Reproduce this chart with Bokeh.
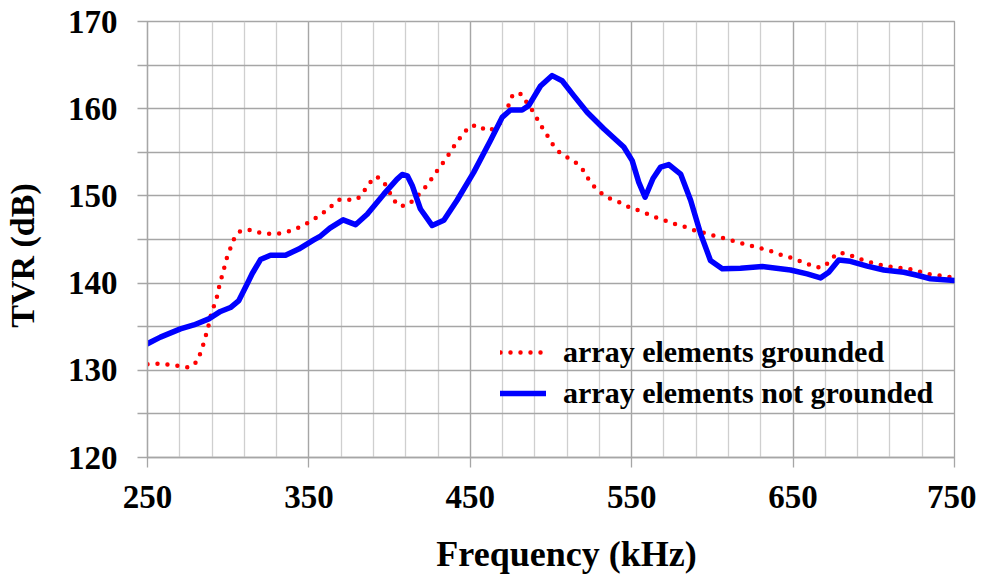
import math
from bokeh.plotting import figure
from bokeh.models import Range1d, FixedTicker, Legend, LegendItem, Label
from bokeh.embed import file_html
from bokeh.resources import INLINE

# ---- data ----
freq_grounded = [250, 258, 270, 276, 281, 283, 285, 286.6, 288.2, 289.5, 291.5, 293.4, 294.6,
                 296.3, 299.4, 303.9, 307.6, 313.8, 320, 326, 332, 338, 344, 349.3, 354.5,
                 359.2, 364.4, 369.2, 374.8, 380, 384, 387.6, 391.9, 396.4, 399.5, 402.2,
                 406.3, 411.9, 420.4, 424.3, 428, 431.5, 435.1, 438.5, 441.8, 445.5, 449.6,
                 455, 460, 464.5, 469.7, 474.3, 476.5, 481.3, 485, 488.1, 491.4, 494.5,
                 497.8, 501.1, 505.3, 510.2, 515.4, 519.7, 523, 526.6, 531.3, 536.5, 542.1,
                 547.4, 553.2, 559, 564.7, 570.5, 576.3, 582.1, 588.1, 594, 599.8, 605.8,
                 611.8, 617.6, 623.6, 629.6, 635.6, 641.6, 647.4, 653.3, 658.9, 664.5,
                 669.6, 673.6, 678.6, 684.1, 689.9, 695.7, 701.7, 707.4, 713.5, 719.6,
                 725.8, 731.6, 737.6, 743.6, 750]
tvr_grounded = [130.7, 130.75, 130.5, 130.3, 131.05, 132.1, 133.2, 134.3, 135.4, 136.5, 137.55,
                138.65, 139.8, 140.9, 143.05, 145.2, 146.0, 146.1, 145.75, 145.65, 145.7,
                145.95, 146.4, 146.9, 147.5, 148.1, 148.9, 149.6, 149.57, 149.6, 150.5,
                151.5, 152.25, 151.6, 150.6, 149.6, 148.8, 149.0, 150.6, 151.5, 152.5,
                153.4, 154.3, 155.3, 156.2, 157.1, 158.0, 158.1, 157.45, 157.7, 158.55,
                160.65, 161.7, 161.7, 160.7, 159.9, 158.85, 157.85, 156.9, 155.9, 155.0,
                154.4, 153.8, 153.0, 152.0, 151.1, 150.3, 149.7, 149.3, 148.8, 148.4,
                148.0, 147.55, 147.2, 146.8, 146.5, 146.1, 145.8, 145.5, 145.2, 144.9,
                144.6, 144.3, 144.0, 143.7, 143.3, 143.0, 142.6, 142.2, 141.8, 141.9,
                142.8, 143.5, 143.3, 142.85, 142.5, 142.2, 141.95, 141.8, 141.65, 141.5,
                141.1, 140.95, 140.8, 140.6]

freq_not_grounded = [250, 258, 270.4, 278.7, 288, 295.2, 301.4, 306.6, 309.7, 312.8, 314.9,
                     320, 326.2, 335.5, 343.7, 353, 357.2, 363, 371.2, 378.9, 386.1, 396.4,
                     404.5, 407.8, 411, 414, 419.1, 426.4, 433.6, 441.8, 452.1, 462.5, 469.7,
                     474.9, 482.1, 486.2, 493.5, 500.7, 506.9, 514.1, 522.4, 532.7, 545.1,
                     550.3, 554.4, 558.3, 563.2, 567.9, 573, 580.3, 586.5, 592.7, 598.8,
                     606.1, 617.4, 630.9, 648.4, 658.7, 667, 672.1, 678.3, 685.5, 695.9,
                     706.2, 718.6, 726.9, 735.1, 750]
tvr_not_grounded = [133.05, 133.8, 134.75, 135.2, 135.9, 136.75, 137.2, 138.0, 139.15, 140.3,
                    141.1, 142.7, 143.2, 143.2, 143.9, 144.95, 145.4, 146.3, 147.25, 146.7,
                    147.9, 150.2, 151.9, 152.45, 152.3, 151.2, 148.5, 146.6, 147.2, 149.5,
                    152.7, 156.35, 159.0, 159.85, 159.85, 160.35, 162.6, 163.8, 163.2, 161.5,
                    159.6, 157.7, 155.6, 154.05, 151.55, 149.85, 152.0, 153.3, 153.6, 152.5,
                    149.5, 145.65, 142.6, 141.65, 141.7, 141.9, 141.5, 141.05, 140.6, 141.25,
                    142.65, 142.5, 141.95, 141.5, 141.25, 140.9, 140.5, 140.3]

x_major_ticks = [250, 350, 450, 550, 650, 750]
x_minor_ticks = list(range(270, 750, 20))
y_major_ticks = [120, 130, 140, 150, 160, 170]
y_minor_ticks = [125, 135, 145, 155, 165]

series_labels = ["array elements grounded", "array elements not grounded"]
x_title = "Frequency (kHz)"
y_title = "TVR (dB)"

FONT = "Liberation Serif"

p = figure(frame_width=807, frame_height=436, output_backend="svg", toolbar_location=None,
           x_range=Range1d(250, 750), y_range=Range1d(120, 170),
           min_border_left=147, min_border_right=22, min_border_top=21, min_border_bottom=117)

p.outline_line_color = "#a6a6a6"
p.outline_line_width = 1.3

# axes
for ax in (p.xaxis[0], p.yaxis[0]):
    ax.axis_line_color = "#a6a6a6"
    ax.axis_line_width = 1.3
    ax.major_tick_line_color = "#a6a6a6"
    ax.minor_tick_line_color = "#a6a6a6"
    ax.major_tick_line_width = 1.3
    ax.minor_tick_line_width = 1.3
    ax.major_tick_in = 0
    ax.minor_tick_in = 0
    ax.major_tick_out = 10
    ax.major_label_text_font = FONT
    ax.major_label_text_font_style = "bold"
    ax.major_label_text_font_size = "33px"
    ax.major_label_text_color = "black"

p.xaxis.ticker = FixedTicker(ticks=x_major_ticks, minor_ticks=x_minor_ticks)
p.yaxis.ticker = FixedTicker(ticks=y_major_ticks, minor_ticks=y_minor_ticks)
p.xaxis.minor_tick_out = 0
p.yaxis.minor_tick_out = 10
p.xaxis.major_label_standoff = 18
p.yaxis.major_label_standoff = 20

# axis titles, placed in side panels (screen units relative to the panel)
p.add_layout(Label(text=x_title, x=419, y=-3.5, x_units="screen", y_units="screen",
                   text_align="center", text_baseline="alphabetic",
                   text_font=FONT, text_font_style="bold", text_font_size="36px",
                   text_color="black"), "below")
p.add_layout(Label(text=y_title, x=-5.5, y=202, x_units="screen", y_units="screen",
                   angle=math.pi / 2, text_align="center", text_baseline="middle",
                   text_font=FONT, text_font_style="bold", text_font_size="34px",
                   text_color="black"), "left")

# grids
p.xgrid.ticker = p.xaxis[0].ticker
p.ygrid.ticker = p.yaxis[0].ticker
p.xgrid.grid_line_color = "#a6a6a6"
p.xgrid.grid_line_width = 1.3
p.xgrid.minor_grid_line_color = "#cfcfcf"
p.xgrid.minor_grid_line_width = 1.3
p.ygrid.grid_line_color = "#a6a6a6"
p.ygrid.grid_line_width = 1.3
p.ygrid.minor_grid_line_color = "#a6a6a6"
p.ygrid.minor_grid_line_width = 1.3

r_red = p.line(freq_grounded, tvr_grounded, line_color="#ff0000", line_width=4.5,
               line_dash="0 10", line_cap="round", line_join="round")
r_blue = p.line(freq_not_grounded, tvr_not_grounded, line_color="#0000ff", line_width=5.5,
                line_cap="round", line_join="round")

legend = Legend(items=[LegendItem(label=series_labels[0], renderers=[r_red]),
                       LegendItem(label=series_labels[1], renderers=[r_blue])],
                location=(353, 47), orientation="vertical",
                background_fill_alpha=0, border_line_alpha=0,
                padding=0, margin=0, spacing=7, glyph_width=46, glyph_height=30,
                label_standoff=17, label_height=30,
                label_text_font=FONT, label_text_font_style="bold",
                label_text_font_size="30px", label_text_color="black")
p.add_layout(legend)

open("out.html", "w").write(file_html(p, INLINE))
